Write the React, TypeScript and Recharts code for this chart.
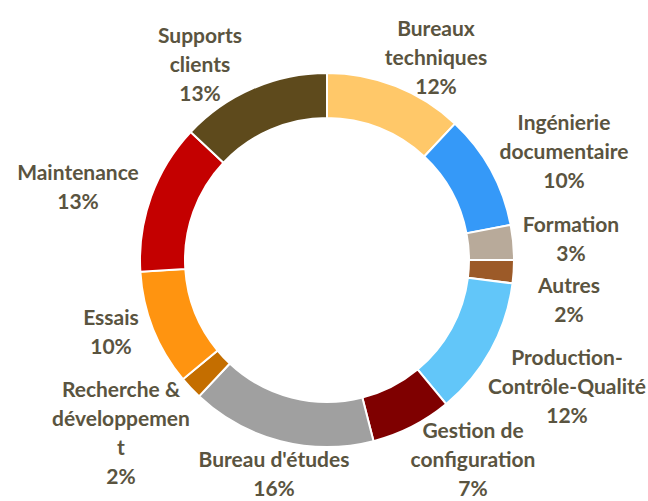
import { Cell, Pie, PieChart } from "recharts";

// Clockwise from 12 o'clock, as in the source workbook.
const CATEGORIES = [
  "Bureaux\ntechniques",
  "Ingénierie\ndocumentaire",
  "Formation",
  "Autres",
  "Production-\nContrôle-Qualité",
  "Gestion de\nconfiguration",
  "Bureau d'études",
  "Recherche &\ndéveloppemen\nt",
  "Essais",
  "Maintenance",
  "Supports\nclients",
];

const SHARES = [12, 10, 3, 2, 12, 7, 16, 2, 10, 13, 13];

const COLORS = [
  "#FFC869",
  "#3599F8",
  "#B8AA9A",
  "#9C5A28",
  "#62C6F9",
  "#7F0000",
  "#A0A0A0",
  "#C46E00",
  "#FF9410",
  "#C40000",
  "#5E4A1C",
];

// Excel-style label placement: centre of each text block relative to the pie centre.
const LABEL_OFFSETS: [number, number][] = [
  [109, -203],
  [237, -109],
  [244, -21],
  [242, 40],
  [240, 126],
  [146, 199],
  [-53, 214],
  [-206, 173],
  [-216, 72],
  [-249, -73],
  [-127, -196],
];

const FONT_SIZE = 21;
const LINE_H = 29;
const TEXT_COLOR = "#5A5440";

const data = CATEGORIES.map((name, i) => ({ name, value: SHARES[i] }));

function renderLabel(props: any) {
  const { cx, cy, index, value } = props;
  const [dx, dy] = LABEL_OFFSETS[index];
  const lines = [...CATEGORIES[index].split("\n"), `${value}%`];
  const x = cx + dx;
  // baseline sits ~0.36em below the visual middle of a capital
  const top = cy + dy - ((lines.length - 1) / 2) * LINE_H + FONT_SIZE * 0.36;
  return (
    <text
      key={`lbl-${index}`}
      x={x}
      y={top}
      textAnchor="middle"
      fill={TEXT_COLOR}
      fontFamily="Lato, 'Open Sans', sans-serif"
      fontWeight={700}
      fontSize={FONT_SIZE}
    >
      {lines.map((l, i) => (
        <tspan key={i} x={x} y={top + i * LINE_H}>
          {l}
        </tspan>
      ))}
    </text>
  );
}

export default function App() {
  return (
    <div style={{ position: "absolute", left: 0, top: 0, width: 648, height: 501, background: "#fff" }}>
      <PieChart width={648} height={501}>
        <Pie
          data={data}
          dataKey="value"
          nameKey="name"
          cx={322}
          cy={255}
          innerRadius={142}
          outerRadius={187}
          startAngle={90}
          endAngle={-270}
          stroke="#fff"
          strokeWidth={2}
          label={renderLabel}
          labelLine={false}
          isAnimationActive={false}
        >
          {data.map((d, i) => (
            <Cell key={d.name} fill={COLORS[i]} />
          ))}
        </Pie>
      </PieChart>
    </div>
  );
}
